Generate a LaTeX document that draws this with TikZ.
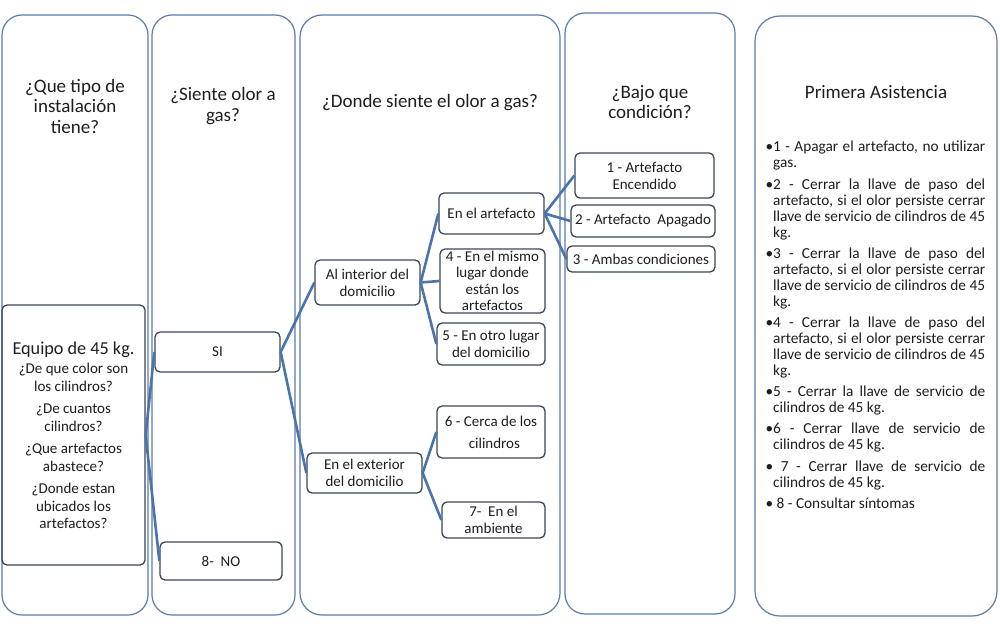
\documentclass[tikz,border=0pt]{standalone}
\usepackage{fontspec}
\setmainfont{Carlito}
\definecolor{colline}{RGB}{92,124,172}
\definecolor{boxline}{RGB}{58,70,88}
\definecolor{conn}{RGB}{74,117,172}
\definecolor{txt}{RGB}{30,30,30}
\newcommand{\jl}[1]{\hbox to 212pt{\spaceskip=0.22em plus 1em minus 0.12em #1}}
\newcommand{\lastln}[1]{\hbox{#1}}
\newcommand{\itemgap}{\vskip5.2pt}
\begin{document}
\begin{tikzpicture}[x=1pt,y=-1pt,
  column/.style={draw=colline,line width=1.2pt},
  box/.style={draw=boxline,line width=1.3pt,rounded corners=5pt,inner sep=0pt,align=center,
    font=\fontsize{15}{17}\selectfont,text=txt},
  title/.style={align=center,font=\fontsize{19}{20.5}\selectfont,text=txt,inner sep=0pt},
  link/.style={draw=conn,line width=2.6pt}]
\useasboundingbox[fill=white] (0,0) rectangle (1000,623);
% columns
\draw[column,rounded corners=20pt] (2,15) rectangle (148,615);
\draw[column,rounded corners=20pt] (152,15) rectangle (295,615);
\draw[column,rounded corners=22pt] (300,15) rectangle (560,615);
\draw[column,rounded corners=20pt] (565,13) rectangle (735,614);
\draw[column,rounded corners=25pt] (755,16) rectangle (997,616);
% titles
\node[title] (t1) at (75,106) {¿Que tipo de\\instalación\\tiene?};
\node[title] (t2) at (223,106) {¿Siente olor a\\gas?};
\node[title] (t3) at (430,103) {¿Donde siente el olor a gas?};
\node[title] (t4) at (650,102) {¿Bajo que\\condición?};
\node[title] (t5) at (876,92) {Primera Asistencia};
% boxes
\node[box,minimum width=143pt,minimum height=260pt] (equipo) at (73.5,435) {};
\node[align=center,inner sep=0pt,text=txt,anchor=base] (eqt) at (73.5,354) {\fontsize{18.2}{20}\selectfont Equipo de 45 kg.};
\node[align=center,inner sep=0pt,text=txt,anchor=north,font=\fontsize{15}{17.5}\selectfont] (eqq) at (73.5,363)
 {¿De que color son\\los cilindros?\\[5pt]¿De cuantos\\cilindros?\\[5pt]¿Que artefactos\\abastece?\\[5pt]¿Donde estan\\ubicados los\\artefactos?};
\node[box,minimum width=125pt,minimum height=40pt] (si) at (217.5,352) {SI};
\node[box,minimum width=122pt,minimum height=38pt] (no) at (221,561) {8-\ \ NO};
\node[box,minimum width=105pt,minimum height=45pt] (interior) at (367.5,282.5) {Al interior del\\domicilio};
\node[box,minimum width=115pt,minimum height=40pt] (exterior) at (364.5,473) {En el exterior\\del domicilio};
\node[box,minimum width=105pt,minimum height=41pt] (artefacto) at (491.5,213.5) {En el artefacto};
\node[box,minimum width=105pt,minimum height=64pt,font=\fontsize{15}{16.5}\selectfont] (mismo) at (492.5,281) {4 - En el mismo\\lugar donde\\están los\\artefactos};
\node[box,minimum width=108pt,minimum height=42pt] (otro) at (491,344) {5 - En otro lugar\\del domicilio};
\node[box,minimum width=108pt,minimum height=52pt] (cerca) at (491,432) {6 - Cerca de los\\[5pt]\ \ cilindros};
\node[box,minimum width=103pt,minimum height=36pt] (ambiente) at (493.5,520) {7-\ \ En el\\ambiente};
\node[box,minimum width=139pt,minimum height=45pt] (c1) at (644.5,175.5) {1 - Artefacto\\Encendido};
\node[box,minimum width=144pt,minimum height=32pt] (c2) at (643,221) {2 - Artefacto\ \ Apagado};
\node[box,minimum width=148pt,minimum height=26pt] (c3) at (641,259) {3 - Ambas condiciones};
% connectors
\draw[link] (equipo.east) -- (si.west);
\draw[link] (equipo.east) -- (no.west);
\draw[link] (si.east) -- (interior.west);
\draw[link] (si.east) -- (exterior.west);
\draw[link] (interior.east) -- (artefacto.west);
\draw[link] (interior.east) -- (mismo.west);
\draw[link] (interior.east) -- (otro.west);
\draw[link] (exterior.east) -- (cerca.west);
\draw[link] (exterior.east) -- (ambiente.west);
\draw[link] (artefacto.east) -- (c1.west);
\draw[link] (artefacto.east) -- (c2.west);
\draw[link] (artefacto.east) -- (c3.west);
% right text
\node[anchor=north west,inner sep=0pt,text=txt,
  font=\fontsize{15.3}{16}\selectfont] (asis) at (773,141)
{\vtop{\baselineskip=16pt
\jl{\llap{•}1 - Apagar el artefacto, no utilizar}
\lastln{gas.}\itemgap
\jl{\llap{•}2 - Cerrar la llave de paso del}
\jl{artefacto, si el olor persiste cerrar}
\jl{llave de servicio de cilindros de 45}
\lastln{kg.}\itemgap
\jl{\llap{•}3 - Cerrar la llave de paso del}
\jl{artefacto, si el olor persiste cerrar}
\jl{llave de servicio de cilindros de 45}
\lastln{kg.}\itemgap
\jl{\llap{•}4 - Cerrar la llave de paso del}
\jl{artefacto, si el olor persiste cerrar}
\jl{llave de servicio de cilindros de 45}
\lastln{kg.}\itemgap
\jl{\llap{•}5 - Cerrar la llave de servicio de}
\lastln{cilindros de 45 kg.}\itemgap
\jl{\llap{•}6 - Cerrar llave de servicio de}
\lastln{cilindros de 45 kg.}\itemgap
\jl{\llap{•} 7 - Cerrar llave de servicio de}
\lastln{cilindros de 45 kg.}\itemgap
\lastln{\llap{•} 8 - Consultar síntomas}}};
\end{tikzpicture}
\end{document}
